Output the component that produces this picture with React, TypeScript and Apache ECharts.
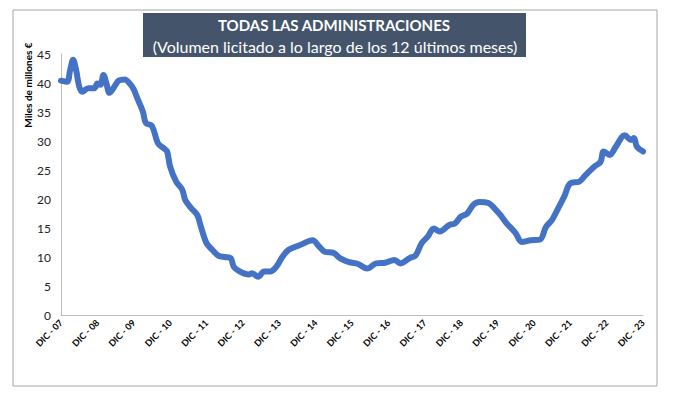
import React, { useEffect, useRef } from "react";
import * as echarts from "echarts";

const monthIndex = [
  0, 2, 3, 4, 5, 6, 7, 9, 11, 12, 13, 14, 15, 16, 18, 19, 21, 23, 24, 25, 27, 28, 30, 32, 34, 35, 36, 38, 40, 41,
  43, 45, 46, 48, 50, 52, 54, 56, 57, 59, 62, 63, 65, 67, 69, 71, 73, 75, 78, 79, 83, 85, 87, 90, 92, 95, 98, 101,
  104, 107, 110, 112, 115, 117, 119, 121, 123, 125, 128, 130, 132, 134, 136, 138, 141, 143, 145, 147, 149, 150,
  152, 155, 158, 160, 162, 164, 166, 168, 171, 173, 176, 178, 179, 181, 183, 186, 188, 189, 190, 192,
];
const volume = [
  40.4, 40.2, 42.2, 44.0, 42.2, 39.4, 38.5, 39.1, 39.1, 39.9, 39.7, 41.4, 39.9, 38.3, 39.7, 40.4, 40.6, 39.7, 38.9,
  37.6, 35.1, 33.1, 32.6, 29.6, 28.7, 28.2, 25.6, 23.0, 21.6, 19.8, 18.4, 17.2, 15.5, 12.4, 11.2, 10.2, 10.0, 9.8,
  8.3, 7.5, 7.0, 7.2, 6.6, 7.5, 7.5, 8.3, 10.0, 11.2, 11.9, 12.1, 12.9, 11.9, 10.9, 10.7, 9.8, 9.1, 8.8, 8.0, 8.9,
  9.0, 9.5, 8.9, 9.8, 10.3, 12.4, 13.5, 14.9, 14.4, 15.5, 15.8, 17.0, 17.5, 19.0, 19.5, 19.3, 18.4, 17.2, 15.8,
  14.7, 14.1, 12.6, 12.9, 13.0, 15.2, 16.4, 18.4, 20.4, 22.7, 23.0, 24.1, 25.6, 26.4, 28.2, 27.6, 29.0, 31.0, 30.2,
  30.5, 29.0, 28.2,
];
const yearLabels = ["07", "08", "09", "10", "11", "12", "13", "14", "15", "16", "17", "18", "19", "20", "21", "22", "23"];

const FONT = "Lato, 'Open Sans', sans-serif";

export default function App() {
  const ref = useRef<HTMLDivElement>(null);
  useEffect(() => {
    if (!ref.current) return;
    const chart = echarts.init(ref.current, null, { renderer: "svg" });
    const data = monthIndex.map((m, i) => [m, volume[i]]);
    chart.setOption({
      animation: false,
      backgroundColor: "#ffffff",
      grid: { left: 61, right: 38, top: 54, bottom: 82, outerBoundsMode: "none", containLabel: false },
      xAxis: {
        type: "value",
        min: 0,
        max: 192,
        interval: 12,
        axisLine: { show: true, lineStyle: { color: "#bfbfbf", width: 1 } },
        axisTick: { show: false },
        splitLine: { show: false },
        axisLabel: {
          rotate: 45,
          margin: 6,
          fontSize: 9,
          fontWeight: "bold",
          color: "#000",
          fontFamily: FONT,
          formatter: (v: number) => "DIC - " + yearLabels[Math.round(v / 12)],
        },
      },
      yAxis: {
        type: "value",
        min: 0,
        max: 45,
        interval: 5,
        axisLine: { show: true, lineStyle: { color: "#bfbfbf", width: 1 } },
        axisTick: { show: false },
        splitLine: { show: false },
        axisLabel: { fontSize: 12, color: "#222", fontFamily: FONT, margin: 10 },
      },
      series: [
        {
          type: "line",
          data,
          smooth: 0.35,
          showSymbol: false,
          lineStyle: { color: "#4472C4", width: 6, cap: "round", join: "round" },
        },
      ],
      graphic: [
        {
          type: "rect",
          shape: { x: 13, y: 10, width: 644, height: 376 },
          style: { fill: "none", stroke: "#a6a6a6", lineWidth: 1 },
          silent: true,
        },
        {
          type: "rect",
          shape: { x: 143, y: 13, width: 383, height: 44 },
          style: { fill: "#44546A" },
          silent: true,
        },
        {
          type: "text",
          x: 334,
          y: 25,
          style: {
            text: "TODAS LAS ADMINISTRACIONES",
            fill: "#fff",
            font: "bold 15px " + FONT,
            textAlign: "center",
            textVerticalAlign: "middle",
          },
        },
        {
          type: "text",
          x: 335,
          y: 46,
          style: {
            text: "(Volumen licitado a lo largo de los 12 últimos meses)",
            fill: "#fff",
            font: "16px " + FONT,
            textAlign: "center",
            textVerticalAlign: "middle",
          },
        },
        {
          type: "text",
          x: 28,
          y: 85,
          rotation: Math.PI / 2,
          style: {
            text: "Miles de millones €",
            fill: "#000",
            font: "bold 10px " + FONT,
            textAlign: "center",
            textVerticalAlign: "middle",
          },
        },
      ],
    });
    return () => chart.dispose();
  }, []);
  return (
    <div
      ref={ref}
      style={{ position: "fixed", left: 0, top: 0, width: 681, height: 397, background: "#fff" }}
    />
  );
}
